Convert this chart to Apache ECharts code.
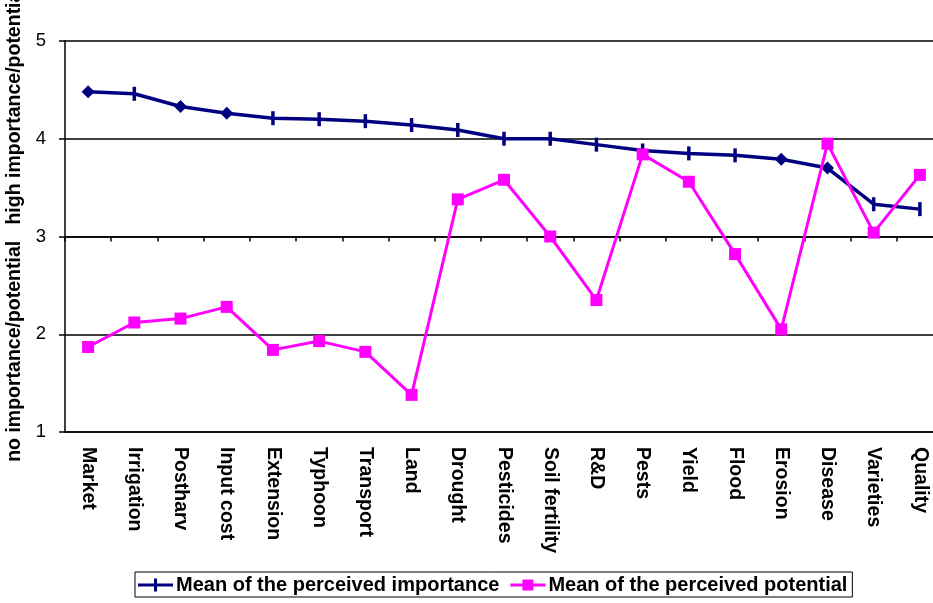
<!DOCTYPE html>
<html>
<head>
<meta charset="utf-8">
<style>
  html, body { margin: 0; padding: 0; background: #fff; overflow: hidden; }
  #chart { width: 933px; height: 603px; }
</style>
<script src="https://cdn.jsdelivr.net/npm/echarts@6/dist/echarts.min.js"></script>
</head>
<body>
<div id="chart"></div>
<script>
const categories = ['Market', 'Irrigation', 'Postharv', 'Input cost', 'Extension', 'Typhoon', 'Transport', 'Land', 'Drought', 'Pesticides', 'Soil fertility', 'R&D', 'Pests', 'Yield', 'Flood', 'Erosion', 'Disease', 'Varieties', 'Quality'];
const importance = [4.48, 4.46, 4.33, 4.26, 4.21, 4.20, 4.18, 4.14, 4.09, 4.00, 4.00, 3.94, 3.88, 3.85, 3.83, 3.79, 3.70, 3.33, 3.28];
const potential = [1.87, 2.12, 2.16, 2.28, 1.84, 1.93, 1.82, 1.38, 3.38, 3.58, 3.00, 2.35, 3.84, 3.56, 2.82, 2.05, 3.95, 3.04, 3.63];
const yTicks = [1, 2, 3, 4, 5];
const seriesNames = ['Mean of the perceived importance', 'Mean of the perceived potential'];
const yAxisName = 'no importance/potential   high importance/potential';

const diamondCats = ['Market', 'Postharv', 'Input cost', 'Erosion', 'Disease'];

const chart = echarts.init(document.getElementById('chart'));
const font = '"Liberation Sans", Arial, sans-serif';
const plotTop = 41, plotBottom = 432;
const plotH = plotBottom - plotTop;

const legendIconImportance = 'path://M0,5h35v3h-35z M16,0h3v13h-3z';
const legendIconPotential = 'path://M0,5h35v3h-35z M12,1h11v11h-11z';

chart.setOption({
  animation: false,
  backgroundColor: '#fff',
  grid: {
    left: 65, top: plotTop, right: -10, bottom: 603 - plotBottom,
    containLabel: false, outerBoundsMode: 'none'
  },
  legend: {
    left: 135, top: 572,
    padding: [3, 5, 2, 3],
    borderColor: '#000', borderWidth: 1,
    itemWidth: 35, itemHeight: 13, itemGap: 11,
    textStyle: { fontFamily: font, fontWeight: 'bold', fontSize: 20, color: '#000', padding: [0, 0, 0, -2] },
    data: [
      { name: seriesNames[0], icon: legendIconImportance, itemStyle: { color: '#000080' } },
      { name: seriesNames[1], icon: legendIconPotential, itemStyle: { color: '#FF00FF' } }
    ]
  },
  xAxis: [{
    type: 'category',
    data: categories,
    boundaryGap: true,
    axisLine: { show: true, lineStyle: { color: '#000', width: 1.5 } },
    axisTick: { show: false },
    axisLabel: {
      rotate: -90, margin: 15, interval: 0,
      fontFamily: font, fontWeight: 'bold', fontSize: 19.5, color: '#000'
    },
    splitLine: { show: false }
  }, {
    type: 'category',
    data: categories,
    position: 'bottom',
    offset: -(plotH / 2),
    boundaryGap: true,
    axisLine: { show: true, lineStyle: { color: '#000', width: 1.5 } },
    axisTick: { show: true, length: 5, inside: false, interval: 0, lineStyle: { color: '#000', width: 1.5 } },
    axisLabel: { show: false },
    splitLine: { show: false }
  }],
  yAxis: {
    type: 'value',
    min: yTicks[0], max: yTicks[yTicks.length - 1], interval: 1,
    name: yAxisName,
    nameLocation: 'middle',
    nameGap: 27,
    nameTextStyle: { fontFamily: font, fontWeight: 'bold', fontSize: 19.5, color: '#000', padding: [0, 0, 0, 25] },
    axisLine: { show: true, lineStyle: { color: '#000', width: 1.5 } },
    axisTick: { show: true, length: 6, inside: false, lineStyle: { color: '#000', width: 1.5 } },
    axisLabel: { margin: 19, fontFamily: font, fontSize: 18.5, color: '#000' },
    splitLine: { show: true, lineStyle: { color: '#000', width: 1.5 } }
  },
  series: [{
    name: seriesNames[0],
    type: 'line',
    data: importance.map((v, i) => diamondCats.includes(categories[i])
      ? { value: v, symbol: 'diamond', symbolSize: [13, 13] }
      : v),
    symbol: 'rect',
    symbolSize: [3.5, 14],
    symbolKeepAspect: false,
    lineStyle: { color: '#000080', width: 3.5 },
    itemStyle: { color: '#000080' },
    z: 3
  }, {
    name: seriesNames[1],
    type: 'line',
    data: potential,
    symbol: 'rect',
    symbolSize: 12,
    lineStyle: { color: '#FF00FF', width: 3 },
    itemStyle: { color: '#FF00FF' },
    z: 4
  }]
});
</script>
</body>
</html>
